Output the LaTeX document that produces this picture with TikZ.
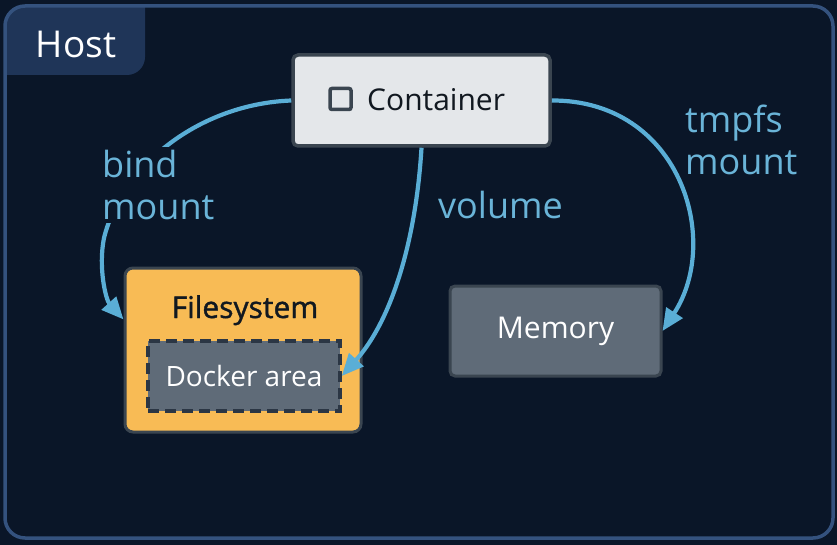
\documentclass[tikz,border=0pt]{standalone}
\usepackage{fontspec}
\setmainfont{Open Sans}
\newfontfamily\semibfont[FakeBold=1.2]{Open Sans}
\usetikzlibrary{arrows.meta,calc}
\definecolor{bgc}{HTML}{0A1628}
\definecolor{framec}{HTML}{34527E}
\definecolor{tabc}{HTML}{1F3558}
\definecolor{contfill}{HTML}{E4E7EA}
\definecolor{darkedge}{HTML}{3A4550}
\definecolor{fsfill}{HTML}{F8BB55}
\definecolor{grayfill}{HTML}{5F6B78}
\definecolor{dashedge}{HTML}{2B3644}
\definecolor{arrowc}{HTML}{5AAED6}
\definecolor{labelc}{HTML}{6AB4D8}
\definecolor{inktext}{HTML}{111820}
\tikzset{
  box/.style={draw=darkedge, line width=3.5pt, rounded corners=5pt, inner sep=0pt},
  conn/.style={draw=arrowc, line width=4.2pt, -{Triangle[length=22pt,width=19pt]}},
  lbl/.style={text=labelc, font=\fontsize{36}{42}\selectfont, align=left, inner sep=3pt, fill=bgc},
}
\begin{document}
\begin{tikzpicture}[x=1pt,y=-1pt]
\fill[bgc] (0,0) rectangle (837,545);
\useasboundingbox (0,0) rectangle (837,545);
% host tab
\fill[tabc] (6,75) [rounded corners=18pt] -- (6,6) [sharp corners] -- (145,6) [rounded corners=18pt] -- (145,75) [sharp corners] -- cycle;
\draw[framec, line width=3.5pt, rounded corners=20pt] (5,6) rectangle (833,538);
\node[text=white, font=\fontsize{37}{40}\selectfont] (host) at (76,44) {Host};
% nodes
\node[box, fill=contfill, minimum width=257pt, minimum height=91pt] (cont) at (421.5,100.5) {};
\node[draw=darkedge, line width=3.5pt, rounded corners=2pt, minimum size=21pt, inner sep=0pt] (icon) at (340.5,99) {};
\node[text=inktext, font=\fontsize{30}{32}\selectfont, anchor=base west, inner sep=0pt] (conttext) at (367,111) {Container};
\node[box, fill=fsfill, rounded corners=8pt, line width=3pt, minimum width=236pt, minimum height=164pt] (fs) at (243,350) {};
\node[text=inktext, font=\semibfont\fontsize{30}{33}\selectfont, anchor=base, inner sep=0pt] (fstext) at (245,318) {Filesystem};
\node[draw=dashedge, fill=grayfill, line width=3.5pt, dash pattern=on 11pt off 6pt, minimum width=192pt, minimum height=70pt, inner sep=0pt, text=white, font=\fontsize{28}{30}\selectfont] (dock) at (244,376) {Docker area};
\node[box, fill=grayfill, line width=3pt, minimum width=211pt, minimum height=90pt, text=white, font=\fontsize{30}{32}\selectfont] (mem) at (555.5,331) {Memory};
% connectors
\draw[conn] (cont.west) .. controls (200,104) and (122,165) .. (104,238) .. controls (98,268) and (106,300) .. ($(fs.north west)!0.317!(fs.south west)$);
\draw[conn] (cont.south) .. controls (416,240) and (392,320) .. (dock.east);
\draw[conn] (cont.east) .. controls (680,100) and (722,240) .. (mem.east);
% labels
\node[lbl, anchor=north west] (lbind) at (99,147) {bind\\mount};
\node[lbl, anchor=base west, fill=none] (lvol) at (435,219) {volume};
\node[lbl, anchor=north west, fill=none] (ltmp) at (682,102) {tmpfs\\mount};
\end{tikzpicture}
\end{document}
